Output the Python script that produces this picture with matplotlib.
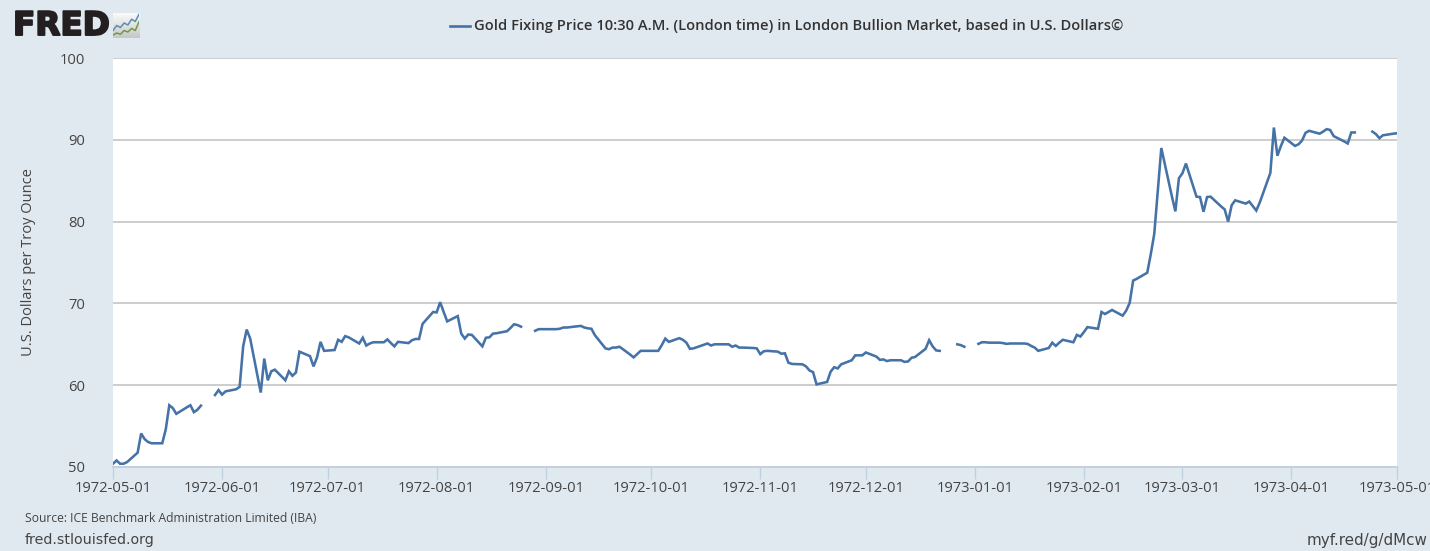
import matplotlib
matplotlib.use('Agg')
import matplotlib.pyplot as plt
import matplotlib.dates as mdates
import matplotlib.patheffects as pe
import numpy as np
import pandas as pd

nan = float('nan')

# daily fixing, one value per business day, nan where the market was closed
may_1972 = [50.4, 50.8, 50.4, 50.4, 50.6, 51.75, 54.1, 53.4, 53.05, 52.9, 52.9, 54.6,
            57.55, 57.2, 56.5, 57.3, 57.55, 56.7, 57.0, 57.5, nan, 58.8, 59.4]
jun_1972 = [58.85, 59.25, 59.5, 59.8, 64.75, 66.8, 65.7, 59.1, 63.25, 60.6, 61.7, 61.9,
            60.6, 61.7, 61.15, 61.55, 64.1, 63.55, 62.3, 63.4, 65.3, 64.2]
jul_1972 = [64.3, 65.55, 65.3, 66.0, 65.85, 65.1, 65.8, 64.85, 65.1, 65.25, 65.25, 65.6,
            65.15, 64.75, 65.3, 65.15, 65.5, 65.65, 65.65, 67.5, 68.95]
aug_1972 = [68.9, 70.15, 68.95, 67.8, 68.45, 66.3, 65.7, 66.2, 66.15, 64.75, 65.8, 65.85,
            66.3, 66.35, 66.6, 67.0, 67.45, 67.35, 67.15, nan, 66.65, 66.85, 66.85]
sep_1972 = [66.85, 66.85, 66.9, 67.05, 67.05, 67.1, 67.25, 67.05, 66.95, 66.9, 66.1,
            64.5, 64.4, 64.6, 64.6, 64.7, 63.75, 63.4, 63.8, 64.2, 64.2]
oct_1972 = [64.2, 64.2, 64.9, 65.7, 65.3, 65.75, 65.55, 65.2, 64.45, 64.5, 64.95, 65.1,
            64.85, 65.0, 65.0, 65.0, 64.7, 64.85, 64.6, 64.6, 64.55, 64.5]
nov_1972 = [63.8, 64.15, 64.2, 64.1, 63.85, 63.9, 62.75, 62.6, 62.55, 62.3, 61.8, 61.6,
            60.1, 60.4, 61.65, 62.2, 62.05, 62.55, 63.05, 63.65, 63.65, 63.65]
dec_1972 = [64.0, 63.5, 63.1, 63.15, 62.95, 63.05, 63.05, 62.85, 62.9, 63.35, 63.45,
            64.45, 65.5, 64.75, 64.25, 64.2, nan, nan, 65.0, 64.9, 64.7]
jan_1973 = [nan, 65.05, 65.25, 65.25, 65.2, 65.2, 65.15, 65.05, 65.1, 65.1, 65.1, 65.05,
            64.8, 64.6, 64.2, 64.55, 65.2, 64.8, 65.2, 65.55, 65.25, 66.15, 65.95]
feb_1973 = [66.5, 67.1, 66.9, 68.95, 68.7, 68.95, 69.2, 68.5, 69.1, 70.05, 72.8, 73.0,
            73.75, 76.0, 78.5, 83.8, 89.0, 83.1, 81.25, 85.3]
mar_1973 = [85.9, 87.1, 83.05, 83.0, 81.2, 83.0, 83.05, 81.85, 81.5, 80.0, 82.0, 82.6,
            82.2, 82.45, 81.9, 81.35, 82.35, 85.95, 91.5, 88.05, 89.25, 90.25]
apr_1973 = [89.25, 89.45, 89.9, 90.85, 91.1, 90.75, 91.0, 91.3, 91.2, 90.45, 89.8, 89.55,
            90.9, 90.9, nan, nan, 91.0, 90.7, 90.2, 90.55, 90.75]
may_1973 = [90.8]

prices = (may_1972 + jun_1972 + jul_1972 + aug_1972 + sep_1972 + oct_1972 + nov_1972
          + dec_1972 + jan_1973 + feb_1973 + mar_1973 + apr_1973 + may_1973)
dates = pd.bdate_range('1972-05-01', '1973-05-01')

y_ticks = [50, 60, 70, 80, 90, 100]
logo_blue = [0.3, 0.5, 0.42, 0.6, 0.52, 0.75, 0.66, 0.95]
logo_green = [0.12, 0.2, 0.15, 0.3, 0.24, 0.38, 0.3, 0.65]

W, H = 1430, 551
BG = '#e1e9f0'
BLUE = '#4572a7'
TEXT = '#444444'
TICK = '#c0d0e0'

plt.rcParams['font.family'] = ['Open Sans', 'DejaVu Sans']

fig = plt.figure(figsize=(W / 100, H / 100), dpi=100, facecolor=BG)
ax = fig.add_axes([113 / W, 1 - 467 / H, (1397 - 113) / W, (467 - 58) / H], facecolor='white')

ax.plot(dates, prices, color=BLUE, lw=1.85, solid_joinstyle='miter', zorder=3)

ax.set_xlim(pd.Timestamp('1972-05-01'), pd.Timestamp('1973-05-01'))
ax.set_ylim(50, 100)
ax.set_yticks(y_ticks)
ax.xaxis.set_major_locator(mdates.MonthLocator())
ax.xaxis.set_major_formatter(mdates.DateFormatter('%Y-%m-%d'))
ax.grid(axis='y', color='#c0c0c0', lw=1.1, zorder=1)
ax.set_axisbelow(True)
for side in ['left', 'right', 'top']:
    ax.spines[side].set_visible(False)
ax.spines['bottom'].set_color(TICK)
ax.spines['bottom'].set_linewidth(1.3)
ax.tick_params(axis='x', length=8.5, width=1, color=TICK, labelsize=10.6, labelcolor=TEXT, pad=1.5)
ax.tick_params(axis='y', length=0, labelsize=10.6, labelcolor=TEXT, pad=20)

fig.text(28 / W, 1 - 262 / H, 'U.S. Dollars per Troy Ounce', rotation=90, ha='center', va='center',
         fontsize=10.5, color=TEXT)

# legend row above the plot
fig.add_artist(plt.Line2D([450 / W, 470 / W], [1 - 26 / H, 1 - 26 / H], color=BLUE, lw=1.9))
fig.text(474 / W, 1 - 26 / H, 'Gold Fixing Price 10:30 A.M. (London time) in London Bullion Market, based in U.S. Dollars©',
         ha='left', va='center', fontsize=10.6, color='#333333', fontweight='semibold')

# footer
fig.text(25 / W, 1 - 518 / H, 'Source: ICE Benchmark Administration Limited (IBA)', ha='left', va='center',
         fontsize=8.75, color=TEXT)
fig.text(25 / W, 1 - 540 / H, 'fred.stlouisfed.org', ha='left', va='center', fontsize=10.25, color=TEXT,
         family=['DejaVu Sans'])
fig.text(1428 / W, 1 - 540 / H, 'myf.red/g/dMcw', ha='right', va='center', fontsize=10.9, color=TEXT,
         family=['DejaVu Sans'])

# FRED logo
logo_text = fig.text(13 / W, 1 - 25.5 / H, 'FRED', ha='left', va='center', fontsize=23.5, color='#231f20',
                     fontweight='bold', family=['DejaVu Sans'])
logo_text.set_path_effects([pe.withStroke(linewidth=1.4, foreground='#231f20')])
logo = fig.add_axes([113 / W, 1 - 38 / H, 26 / W, 25 / H], facecolor='#d4d8da')
logo.imshow(np.linspace(0.98, 0.78, 32).reshape(-1, 1), cmap='gray', vmin=0, vmax=1, aspect='auto',
            extent=[0, 1, 0, 1])
logo_x = np.arange(len(logo_blue)) / (len(logo_blue) - 1)
logo.plot(logo_x, logo_blue, color='#5b8db3', lw=1.1)
logo.plot(logo_x, logo_green, color='#6d9a45', lw=1.1)
logo.set_xlim(0, 1)
logo.set_ylim(0, 1)
logo.axis('off')

fig.savefig('out.png', dpi=100, facecolor=BG)
